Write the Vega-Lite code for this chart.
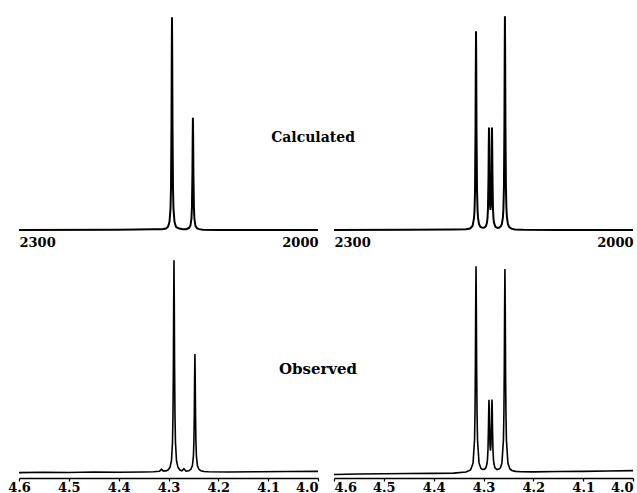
{
  "$schema": "https://vega.github.io/schema/vega-lite/v6.json",
  "background": "white",
  "padding": {"left": 7, "top": 12, "right": 0, "bottom": 0},
  "config": {
    "view": {"stroke": null},
    "axis": {"labelFont": "DejaVu Serif", "labelFontWeight": "bold", "labelFontSize": 13, "labelColor": "black", "grid": false, "title": null}
  },
  "datasets": {
    "calcL": [
      {"ppm": 4.6, "i": 0}, {"ppm": 4.4, "i": 0.1}, {"ppm": 4.33, "i": 0.3}, {"ppm": 4.313, "i": 0.4},
      {"ppm": 4.305, "i": 0.7}, {"ppm": 4.301, "i": 1.5}, {"ppm": 4.298, "i": 3.8}, {"ppm": 4.296, "i": 9.9},
      {"ppm": 4.295, "i": 19.7}, {"ppm": 4.294, "i": 49}, {"ppm": 4.2935, "i": 79}, {"ppm": 4.293, "i": 98.5},
      {"ppm": 4.2925, "i": 79}, {"ppm": 4.292, "i": 49}, {"ppm": 4.291, "i": 19.7}, {"ppm": 4.29, "i": 9.9},
      {"ppm": 4.288, "i": 3.8}, {"ppm": 4.285, "i": 1.5}, {"ppm": 4.28, "i": 0.8}, {"ppm": 4.272, "i": 0.4},
      {"ppm": 4.265, "i": 0.4}, {"ppm": 4.259, "i": 0.9}, {"ppm": 4.256, "i": 2.0}, {"ppm": 4.254, "i": 5.2},
      {"ppm": 4.253, "i": 10.4}, {"ppm": 4.252, "i": 26}, {"ppm": 4.2515, "i": 41.6}, {"ppm": 4.251, "i": 52},
      {"ppm": 4.2505, "i": 41.6}, {"ppm": 4.25, "i": 26}, {"ppm": 4.249, "i": 10.4}, {"ppm": 4.248, "i": 5.2},
      {"ppm": 4.246, "i": 2.0}, {"ppm": 4.243, "i": 0.8}, {"ppm": 4.239, "i": 0.4}, {"ppm": 4.231, "i": 0.13},
      {"ppm": 4.2, "i": 0.05}, {"ppm": 4.0, "i": 0}
    ],
    "calcR": [
      {"ppm": 4.6, "i": 0}, {"ppm": 4.45, "i": 0.1}, {"ppm": 4.36, "i": 0.2}, {"ppm": 4.335, "i": 0.35},
      {"ppm": 4.327, "i": 0.7}, {"ppm": 4.322, "i": 1.9}, {"ppm": 4.319, "i": 5.5}, {"ppm": 4.318, "i": 9.3},
      {"ppm": 4.317, "i": 18.4}, {"ppm": 4.316, "i": 46}, {"ppm": 4.3155, "i": 73.6}, {"ppm": 4.315, "i": 92},
      {"ppm": 4.3145, "i": 73.6}, {"ppm": 4.314, "i": 46}, {"ppm": 4.313, "i": 18.5}, {"ppm": 4.312, "i": 9.4},
      {"ppm": 4.311, "i": 5.6}, {"ppm": 4.309, "i": 2.7}, {"ppm": 4.306, "i": 1.4}, {"ppm": 4.302, "i": 1.0},
      {"ppm": 4.298, "i": 1.14}, {"ppm": 4.295, "i": 1.86}, {"ppm": 4.293, "i": 3.4}, {"ppm": 4.292, "i": 5.4},
      {"ppm": 4.291, "i": 10.1}, {"ppm": 4.29, "i": 24.1}, {"ppm": 4.2895, "i": 38}, {"ppm": 4.289, "i": 47.4},
      {"ppm": 4.2885, "i": 38.4}, {"ppm": 4.288, "i": 24.9}, {"ppm": 4.287, "i": 12}, {"ppm": 4.286, "i": 9.3},
      {"ppm": 4.285, "i": 12}, {"ppm": 4.284, "i": 24.9}, {"ppm": 4.2835, "i": 38.4}, {"ppm": 4.283, "i": 47.5},
      {"ppm": 4.2825, "i": 38.4}, {"ppm": 4.282, "i": 25}, {"ppm": 4.281, "i": 10.1}, {"ppm": 4.28, "i": 5.4},
      {"ppm": 4.279, "i": 3.4}, {"ppm": 4.276, "i": 1.5}, {"ppm": 4.272, "i": 1.0}, {"ppm": 4.268, "i": 1.15},
      {"ppm": 4.265, "i": 1.75}, {"ppm": 4.263, "i": 2.9}, {"ppm": 4.261, "i": 6.0}, {"ppm": 4.26, "i": 10.1},
      {"ppm": 4.259, "i": 20}, {"ppm": 4.258, "i": 49.5}, {"ppm": 4.2575, "i": 79.2}, {"ppm": 4.257, "i": 99},
      {"ppm": 4.2565, "i": 79.2}, {"ppm": 4.256, "i": 49.5}, {"ppm": 4.255, "i": 19.8}, {"ppm": 4.254, "i": 10},
      {"ppm": 4.253, "i": 5.9}, {"ppm": 4.251, "i": 2.75}, {"ppm": 4.248, "i": 1.25}, {"ppm": 4.244, "i": 0.62},
      {"ppm": 4.237, "i": 0.28}, {"ppm": 4.22, "i": 0.1}, {"ppm": 4.15, "i": 0.03}, {"ppm": 4.0, "i": 0}
    ],
    "obsL": [
      {"ppm": 4.6, "i": 2.4}, {"ppm": 4.55, "i": 2.6}, {"ppm": 4.5, "i": 2.5}, {"ppm": 4.45, "i": 2.7},
      {"ppm": 4.4, "i": 2.6}, {"ppm": 4.35, "i": 2.7}, {"ppm": 4.33, "i": 2.8}, {"ppm": 4.318, "i": 3.0},
      {"ppm": 4.314, "i": 4.0}, {"ppm": 4.311, "i": 3.2}, {"ppm": 4.305, "i": 3.2}, {"ppm": 4.301, "i": 3.6},
      {"ppm": 4.297, "i": 4.8}, {"ppm": 4.294, "i": 7.9}, {"ppm": 4.292, "i": 15.9}, {"ppm": 4.291, "i": 28},
      {"ppm": 4.2902, "i": 50.5}, {"ppm": 4.2896, "i": 79}, {"ppm": 4.289, "i": 98.1}, {"ppm": 4.2884, "i": 79},
      {"ppm": 4.2878, "i": 50.5}, {"ppm": 4.287, "i": 28}, {"ppm": 4.286, "i": 16}, {"ppm": 4.284, "i": 7.9},
      {"ppm": 4.281, "i": 4.8}, {"ppm": 4.277, "i": 3.6}, {"ppm": 4.273, "i": 3.2}, {"ppm": 4.269, "i": 4.2},
      {"ppm": 4.265, "i": 3.1}, {"ppm": 4.259, "i": 3.3}, {"ppm": 4.255, "i": 3.9}, {"ppm": 4.252, "i": 5.6},
      {"ppm": 4.25, "i": 9.9}, {"ppm": 4.249, "i": 16.7}, {"ppm": 4.2482, "i": 29.2}, {"ppm": 4.2476, "i": 45.2},
      {"ppm": 4.247, "i": 55.8}, {"ppm": 4.2464, "i": 45.2}, {"ppm": 4.2458, "i": 29.2}, {"ppm": 4.245, "i": 16.7},
      {"ppm": 4.244, "i": 9.9}, {"ppm": 4.242, "i": 5.6}, {"ppm": 4.239, "i": 3.9}, {"ppm": 4.235, "i": 3.3},
      {"ppm": 4.229, "i": 2.95}, {"ppm": 4.22, "i": 2.8}, {"ppm": 4.18, "i": 2.7}, {"ppm": 4.12, "i": 2.8},
      {"ppm": 4.06, "i": 2.9}, {"ppm": 4.0, "i": 3.0}
    ],
    "obsR": [
      {"ppm": 4.6, "i": 1.6}, {"ppm": 4.55, "i": 1.8}, {"ppm": 4.5, "i": 1.9}, {"ppm": 4.45, "i": 2.0},
      {"ppm": 4.4, "i": 2.1}, {"ppm": 4.36, "i": 2.2}, {"ppm": 4.335, "i": 2.7}, {"ppm": 4.326, "i": 3.6},
      {"ppm": 4.321, "i": 6.6}, {"ppm": 4.318, "i": 17.1}, {"ppm": 4.317, "i": 30}, {"ppm": 4.3163, "i": 48.9},
      {"ppm": 4.31565, "i": 76.8}, {"ppm": 4.315, "i": 95.4}, {"ppm": 4.31435, "i": 76.8}, {"ppm": 4.3137, "i": 48.9},
      {"ppm": 4.313, "i": 30.1}, {"ppm": 4.312, "i": 17.2}, {"ppm": 4.309, "i": 6.8}, {"ppm": 4.305, "i": 4.3},
      {"ppm": 4.302, "i": 3.9}, {"ppm": 4.298, "i": 4.0}, {"ppm": 4.295, "i": 4.7}, {"ppm": 4.293, "i": 6.4},
      {"ppm": 4.292, "i": 8.4}, {"ppm": 4.291, "i": 12.9}, {"ppm": 4.29, "i": 23.4}, {"ppm": 4.2895, "i": 31},
      {"ppm": 4.289, "i": 35.2}, {"ppm": 4.2885, "i": 31.5}, {"ppm": 4.288, "i": 24.4}, {"ppm": 4.287, "i": 14.9},
      {"ppm": 4.286, "i": 12.3}, {"ppm": 4.285, "i": 14.9}, {"ppm": 4.284, "i": 24.6}, {"ppm": 4.2835, "i": 31.7},
      {"ppm": 4.283, "i": 35.4}, {"ppm": 4.2825, "i": 31.7}, {"ppm": 4.282, "i": 23.3}, {"ppm": 4.281, "i": 12.8},
      {"ppm": 4.28, "i": 8.3}, {"ppm": 4.279, "i": 6.3}, {"ppm": 4.277, "i": 4.6}, {"ppm": 4.273, "i": 3.8},
      {"ppm": 4.269, "i": 4.0}, {"ppm": 4.266, "i": 4.6}, {"ppm": 4.263, "i": 6.8}, {"ppm": 4.26, "i": 17.1},
      {"ppm": 4.259, "i": 29.8}, {"ppm": 4.2583, "i": 48.3}, {"ppm": 4.25765, "i": 75.8}, {"ppm": 4.257, "i": 94.1},
      {"ppm": 4.25635, "i": 75.8}, {"ppm": 4.2557, "i": 48.3}, {"ppm": 4.255, "i": 29.8}, {"ppm": 4.254, "i": 17.1},
      {"ppm": 4.251, "i": 6.7}, {"ppm": 4.247, "i": 4.1}, {"ppm": 4.243, "i": 3.4}, {"ppm": 4.236, "i": 3.0},
      {"ppm": 4.225, "i": 2.8}, {"ppm": 4.2, "i": 2.75}, {"ppm": 4.15, "i": 2.9}, {"ppm": 4.1, "i": 3.0},
      {"ppm": 4.05, "i": 3.15}, {"ppm": 4.0, "i": 3.3}
    ],
    "labCalc": [{"ppm": 4.01, "i": 42.6, "label": "Calculated"}],
    "labObs": [{"ppm": 4.0, "i": 49.1, "label": "Observed"}]
  },
  "spacing": 7,
  "vconcat": [
    {
      "bounds": "flush",
      "spacing": 16,
      "hconcat": [
        {
          "width": 299, "height": 216,
          "encoding": {
            "x": {"field": "ppm", "type": "quantitative", "scale": {"domain": [4.0, 4.6], "reverse": true, "nice": false, "zero": false},
                  "axis": {"values": [4.6, 4.0], "labelExpr": "datum.value > 4.3 ? '2300' : '2000'", "domain": false, "ticks": false, "labelFlush": true, "labelPadding": 6}},
            "y": {"field": "i", "type": "quantitative", "scale": {"domain": [0, 100]}, "axis": null}
          },
          "layer": [
            {"data": {"name": "calcL"}, "mark": {"type": "line", "color": "black", "strokeWidth": 2}},
            {"data": {"name": "labCalc"}, "mark": {"type": "text", "font": "DejaVu Serif", "fontWeight": "bold", "fontSize": 14, "color": "black", "align": "center", "baseline": "middle"},
             "encoding": {"text": {"field": "label"}}}
          ]
        },
        {
          "width": 299, "height": 216,
          "encoding": {
            "x": {"field": "ppm", "type": "quantitative", "scale": {"domain": [4.0, 4.6], "reverse": true, "nice": false, "zero": false},
                  "axis": {"values": [4.6, 4.0], "labelExpr": "datum.value > 4.3 ? '2300' : '2000'", "domain": false, "ticks": false, "labelFlush": true, "labelPadding": 6}},
            "y": {"field": "i", "type": "quantitative", "scale": {"domain": [0, 100]}, "axis": null}
          },
          "layer": [
            {"data": {"name": "calcR"}, "mark": {"type": "line", "color": "black", "strokeWidth": 2}}
          ]
        }
      ]
    },
    {
      "bounds": "flush",
      "spacing": 16,
      "hconcat": [
        {
          "width": 299, "height": 222,
          "encoding": {
            "x": {"field": "ppm", "type": "quantitative", "scale": {"domain": [4.0, 4.6], "reverse": true, "nice": false, "zero": false},
                  "axis": {"values": [4.6, 4.5, 4.4, 4.3, 4.2, 4.1, 4.0], "format": ".1f", "labelFlush": false,
                           "labelAlign": {"condition": {"test": "datum.value < 4.05", "value": "right"}, "value": "center"},
                           "domainColor": "black", "domainWidth": 1.5, "tickColor": "black", "tickSize": 3, "tickWidth": 1.2, "labelPadding": 0}},
            "y": {"field": "i", "type": "quantitative", "scale": {"domain": [0, 100]}, "axis": null}
          },
          "layer": [
            {"data": {"name": "obsL"}, "mark": {"type": "line", "color": "black", "strokeWidth": 1.6}},
            {"data": {"name": "labObs"}, "mark": {"type": "text", "font": "DejaVu Serif", "fontWeight": "bold", "fontSize": 15, "color": "black", "align": "center", "baseline": "middle"},
             "encoding": {"text": {"field": "label"}}}
          ]
        },
        {
          "width": 299, "height": 222,
          "encoding": {
            "x": {"field": "ppm", "type": "quantitative", "scale": {"domain": [4.0, 4.6], "reverse": true, "nice": false, "zero": false},
                  "axis": {"values": [4.6, 4.5, 4.4, 4.3, 4.2, 4.1, 4.0], "format": ".1f", "labelFlush": false,
                           "labelAlign": {"condition": [{"test": "datum.value > 4.55", "value": "left"}, {"test": "datum.value < 4.05", "value": "right"}], "value": "center"},
                           "domainColor": "black", "domainWidth": 1.5, "tickColor": "black", "tickSize": 3, "tickWidth": 1.2, "labelPadding": 0}},
            "y": {"field": "i", "type": "quantitative", "scale": {"domain": [0, 100]}, "axis": null}
          },
          "layer": [
            {"data": {"name": "obsR"}, "mark": {"type": "line", "color": "black", "strokeWidth": 1.6}}
          ]
        }
      ]
    }
  ]
}
